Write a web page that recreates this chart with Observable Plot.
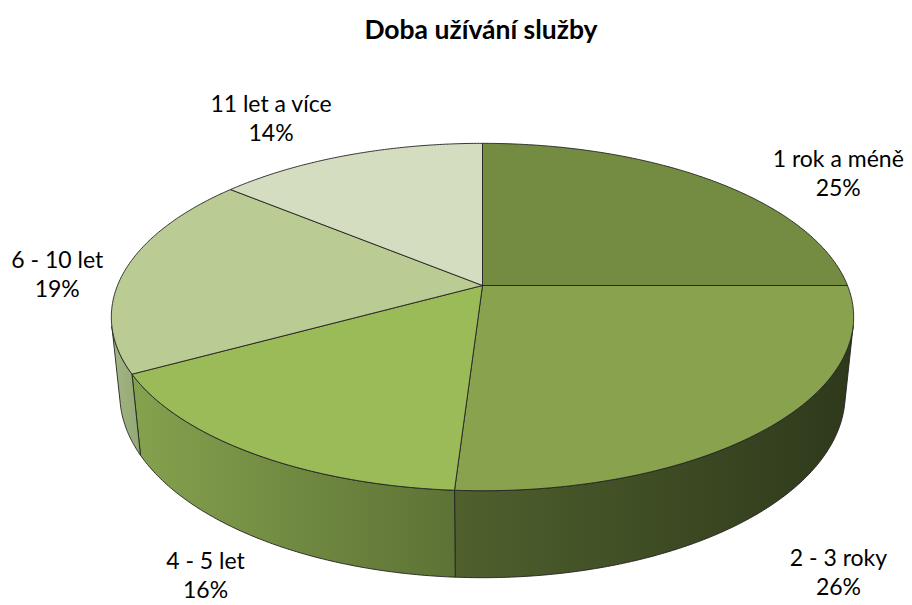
<!DOCTYPE html>
<html><head><meta charset="utf-8">
<script src="https://cdn.jsdelivr.net/npm/d3@7"></script>
<script src="https://cdn.jsdelivr.net/npm/@observablehq/plot@0.6"></script>
<style>
body{margin:0;background:#fff;font-family:Lato,"Open Sans",sans-serif;}
#title{height:60px;line-height:58px;text-align:center;font-weight:bold;font-size:26.5px;padding-left:50px;color:#000;}
#chart svg{display:block;}
</style></head><body>
<div id="title">Doba užívání služby</div>
<div id="chart"></div>
<script>
// data
const categories = ["1 rok a méně", "2 - 3 roky", "4 - 5 let", "6 - 10 let", "11 let a více"];
const shares = [25, 26, 16, 19, 14];
const labels = ["25%", "26%", "16%", "19%", "14%"];
// styles
const topColors = ["#748c42", "#88a24d", "#9bbb59", "#bacb93", "#d4ddbf"];
const sideColors = [["#5c7034", "#3c4a22"], ["#4f602d", "#2e391b"], ["#85a24e", "#5d7235"], ["#a3b685", "#93a874"], ["#b0bf98", "#a0b085"]];
// label nudges in pixels (layout)
const labelNudge = [[127, -8], [68, 145], [-46, 121], [-68, 3], [-78, -38]];

// 3D projection parameters
const elev = 27.4 * Math.PI / 180, D = 4.89, H = 0.24, PX = 365;
function proj(t, r, z) {
  const X = r * Math.sin(t), Y = -r * Math.cos(t);
  const v = Y * Math.sin(elev) - z * Math.cos(elev);
  const w = Y * Math.cos(elev) + z * Math.sin(elev);
  const f = D / (D - w);
  return [X * f, v * f];
}
const total = d3.sum(shares);
let acc = 0;
const slices = shares.map((s, i) => {
  const t0 = acc / total * 2 * Math.PI; acc += s;
  const t1 = acc / total * 2 * Math.PI;
  return {i, t0, t1, mid: (t0 + t1) / 2};
});
const tVis = Math.acos(-1 / (D * Math.cos(elev)));
const arc = (a, b, z) => { const n = Math.max(2, Math.ceil((b - a) / 0.01)); return d3.range(n + 1).map(k => proj(a + (b - a) * k / n, 1, z)); };

const marks = [];
// side walls
slices.forEach(s => {
  const a = Math.max(s.t0, tVis), b = Math.min(s.t1, 2 * Math.PI - tVis);
  if (b <= a) return;
  const pts = [...arc(a, b, 0), ...arc(a, b, -H).reverse()];
  pts.push(pts[0]);
  marks.push(Plot.line(pts, {x: d => d[0], y: d => d[1], fill: `url(#side${s.i})`, stroke: "#222", strokeWidth: 0.9, curve: "linear"}));
});
// top faces
slices.forEach(s => {
  const pts = [proj(0, 0, 0), ...arc(s.t0, s.t1, 0), proj(0, 0, 0)];
  marks.push(Plot.line(pts, {x: d => d[0], y: d => d[1], fill: topColors[s.i], stroke: "#222", strokeWidth: 0.9, strokeLinejoin: "round", curve: "linear"}));
});
// labels
const labelRows = slices.map(s => {
  const p = proj(s.mid, 1, 0);
  return {x: p[0] + labelNudge[s.i][0] / PX, y: p[1] + labelNudge[s.i][1] / PX, text: categories[s.i] + "\n" + labels[s.i]};
});
marks.push(Plot.text(labelRows, {x: "x", y: "y", text: "text", fontSize: 23, lineHeight: 1.25, fill: "#000", textAnchor: "middle"}));

const svg = Plot.plot({
  width: 912, height: 545, margin: 0,
  style: {fontFamily: "Lato, 'Open Sans', sans-serif", background: "#fff"},
  x: {domain: [-482 / PX, 430 / PX], range: [0, 912], axis: null},
  y: {domain: [-225 / PX, 320 / PX], range: [0, 545], axis: null},
  marks
});
const defs = d3.select(svg).insert("defs", ":first-child");
sideColors.forEach((c, i) => {
  const g = defs.append("linearGradient").attr("id", "side" + i).attr("x1", 0).attr("x2", 1).attr("y1", 0).attr("y2", 0);
  g.append("stop").attr("offset", 0).attr("stop-color", c[0]);
  g.append("stop").attr("offset", 1).attr("stop-color", c[1]);
});
document.getElementById("chart").appendChild(svg);
</script>
</body></html>
